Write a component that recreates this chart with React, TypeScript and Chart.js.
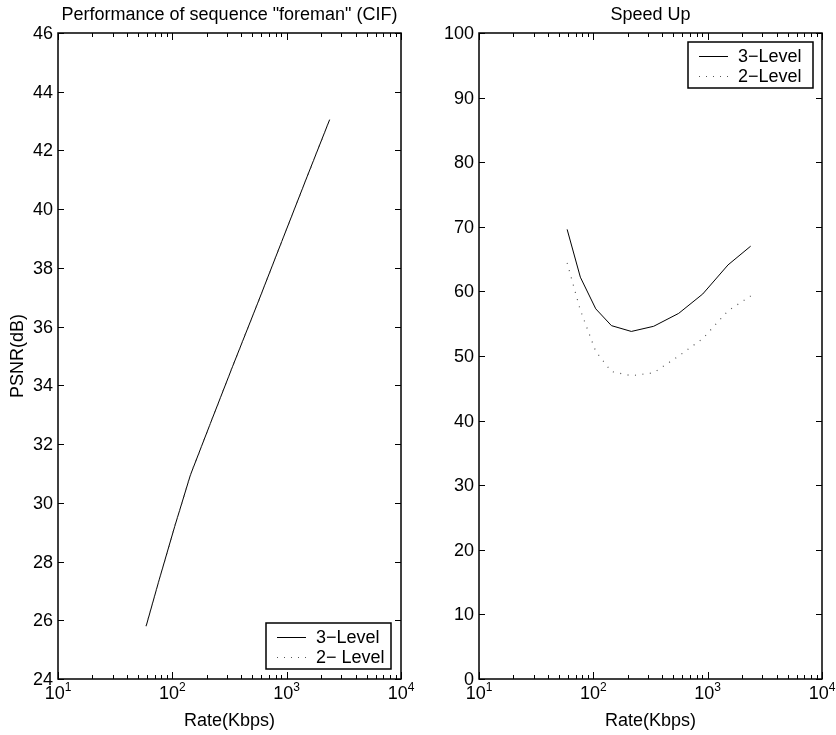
import React, { useEffect, useRef } from 'react';
import { Chart, registerables } from 'chart.js';

Chart.register(...registerables);

// ---- data ----
const rates = [59, 77, 105, 144, 215, 337, 558, 906, 1507, 2377];
const psnr3Level = [25.8, 27.4, 29.2, 30.95, 32.7, 34.65, 36.8, 38.9, 41.1, 43.05];
const psnr2Level = [25.8, 27.4, 29.2, 30.95, 32.7, 34.65, 36.8, 38.9, 41.1, 43.05];
const speed3Level = [69.6, 62.2, 57.3, 54.7, 53.8, 54.6, 56.6, 59.6, 64.1, 67.0];
const speed2Level = [64.4, 57.1, 50.7, 47.6, 46.95, 47.4, 50.0, 52.7, 57.0, 59.3];
const xDecades = [10, 100, 1000, 10000];
const xDecadeExponents = ['1', '2', '3', '4'];
const psnrTicks = [24, 26, 28, 30, 32, 34, 36, 38, 40, 42, 44, 46];
const speedTicks = [0, 10, 20, 30, 40, 50, 60, 70, 80, 90, 100];
const seriesLabelsLeft = ['3\u2212Level', '2\u2212 Level'];
const seriesLabelsRight = ['3\u2212Level', '2\u2212Level'];

const FONT = '"Liberation Sans", Arial, Helvetica, sans-serif';

type PanelSpec = {
  title: string;
  yLabel: string | null;
  s3: number[];
  s2: number[];
  yMin: number;
  yMax: number;
  yTicks: number[];
  labels: string[];
  legendCorner: 'br' | 'tr';
  padding: { left: number; right: number; top: number; bottom: number };
};

function makeDecorPlugin(spec: PanelSpec) {
  return {
    id: 'matlabDecor',
    afterDraw(chart: any) {
      const ctx: CanvasRenderingContext2D = chart.ctx;
      const a = chart.chartArea;
      const xs = chart.scales.x;
      const ys = chart.scales.y;
      ctx.save();
      ctx.strokeStyle = '#000';
      ctx.fillStyle = '#000';
      ctx.lineWidth = 1;

      // x ticks: major + minor, top and bottom, inward
      for (let d = 0; d < xDecades.length; d++) {
        const base = xDecades[d];
        for (let m = 1; m <= 9; m++) {
          const v = base * m;
          if (v > xDecades[xDecades.length - 1]) break;
          const px = Math.round(xs.getPixelForValue(v)) + 0.5;
          const len = m === 1 ? 7 : 4;
          ctx.beginPath();
          ctx.moveTo(px, a.bottom);
          ctx.lineTo(px, a.bottom - len);
          ctx.moveTo(px, a.top);
          ctx.lineTo(px, a.top + len);
          ctx.stroke();
          if (d === xDecades.length - 1) break;
        }
      }
      // y ticks left and right inward
      for (const t of spec.yTicks) {
        const py = Math.round(ys.getPixelForValue(t)) + 0.5;
        ctx.beginPath();
        ctx.moveTo(a.left, py);
        ctx.lineTo(a.left + 6, py);
        ctx.moveTo(a.right, py);
        ctx.lineTo(a.right - 6, py);
        ctx.stroke();
      }

      // border
      ctx.lineWidth = 1.5;
      ctx.strokeRect(a.left, a.top, a.right - a.left, a.bottom - a.top);

      // y tick labels
      ctx.font = '18px ' + FONT;
      ctx.textAlign = 'right';
      ctx.textBaseline = 'middle';
      for (const t of spec.yTicks) {
        const py = ys.getPixelForValue(t);
        ctx.fillText(String(t), a.left - 5, py + 1);
      }

      // x tick labels: 10^k
      ctx.textBaseline = 'alphabetic';
      for (let i = 0; i < xDecades.length; i++) {
        const px = xs.getPixelForValue(xDecades[i]);
        ctx.font = '18px ' + FONT;
        const w1 = ctx.measureText('10').width;
        ctx.font = '12px ' + FONT;
        const w2 = ctx.measureText(xDecadeExponents[i]).width;
        const start = px - (w1 + w2) / 2;
        ctx.textAlign = 'left';
        ctx.font = '18px ' + FONT;
        ctx.fillText('10', start, a.bottom + 20);
        ctx.font = '12px ' + FONT;
        ctx.fillText(xDecadeExponents[i], start + w1, a.bottom + 12);
      }

      // x axis title
      ctx.font = '18px ' + FONT;
      ctx.textAlign = 'center';
      ctx.fillText('Rate(Kbps)', (a.left + a.right) / 2, a.bottom + 47);

      // title
      ctx.fillText(spec.title, (a.left + a.right) / 2, 20);

      // y axis title
      if (spec.yLabel) {
        ctx.save();
        ctx.translate(18, (a.top + a.bottom) / 2);
        ctx.rotate(-Math.PI / 2);
        ctx.textBaseline = 'middle';
        ctx.fillText(spec.yLabel, 0, 0);
        ctx.restore();
      }

      // legend
      const bw = 125;
      const bh = 46;
      const margin = spec.legendCorner === 'br' ? 10 : 9;
      const bx = a.right - margin - bw;
      const by = spec.legendCorner === 'br' ? a.bottom - margin - bh : a.top + margin;
      ctx.fillStyle = '#fff';
      ctx.fillRect(bx, by, bw, bh);
      ctx.lineWidth = 1.5;
      ctx.strokeStyle = '#000';
      ctx.strokeRect(bx, by, bw, bh);
      const rows = [by + 13.7, by + 34];
      const dashes = [[], [1, 6]];
      const colors = ['#000', '#555'];
      for (let r = 0; r < 2; r++) {
        const ry = Math.round(rows[r]) + 0.5;
        ctx.beginPath();
        ctx.setLineDash(dashes[r]);
        ctx.lineWidth = 1;
        ctx.strokeStyle = colors[r];
        ctx.moveTo(bx + 11, ry);
        ctx.lineTo(bx + 40, ry);
        ctx.stroke();
        ctx.setLineDash([]);
        ctx.fillStyle = '#000';
        ctx.font = '18px ' + FONT;
        ctx.textAlign = 'left';
        ctx.textBaseline = 'middle';
        ctx.fillText(spec.labels[r], bx + 50, rows[r] + 1);
      }
      ctx.restore();
    },
  };
}

function Panel({ spec, left }: { spec: PanelSpec; left: number }) {
  const ref = useRef<HTMLCanvasElement | null>(null);
  useEffect(() => {
    if (!ref.current) return;
    const chart = new Chart(ref.current, {
      type: 'line',
      data: {
        datasets: [
          {
            label: spec.labels[1],
            data: rates.map((r, i) => ({ x: r, y: spec.s2[i] })),
            borderColor: '#555',
            borderWidth: 1.2,
            borderDash: [1, 6.5],
            pointRadius: 0,
            tension: 0,
            fill: false,
          },
          {
            label: spec.labels[0],
            data: rates.map((r, i) => ({ x: r, y: spec.s3[i] })),
            borderColor: '#000',
            borderWidth: 1,
            pointRadius: 0,
            tension: 0,
            fill: false,
          },
        ],
      },
      options: {
        responsive: false,
        maintainAspectRatio: false,
        animation: false,
        layout: { padding: spec.padding },
        plugins: {
          legend: { display: false },
          title: { display: false },
          tooltip: { enabled: false },
        },
        scales: {
          x: { type: 'logarithmic', min: 10, max: 10000, display: false },
          y: { type: 'linear', min: spec.yMin, max: spec.yMax, display: false },
        },
      },
      plugins: [makeDecorPlugin(spec)],
    } as any);
    return () => chart.destroy();
  }, [spec]);
  return (
    <canvas
      ref={ref}
      width={418}
      height={735}
      style={{ position: 'absolute', left, top: 0, width: 418, height: 735 }}
    />
  );
}

const leftSpec: PanelSpec = {
  title: 'Performance of sequence "foreman" (CIF)',
  yLabel: 'PSNR(dB)',
  s3: psnr3Level,
  s2: psnr2Level,
  yMin: 24,
  yMax: 46,
  yTicks: psnrTicks,
  labels: seriesLabelsLeft,
  legendCorner: 'br',
  padding: { left: 58, right: 17, top: 33, bottom: 56 },
};

const rightSpec: PanelSpec = {
  title: 'Speed Up',
  yLabel: null,
  s3: speed3Level,
  s2: speed2Level,
  yMin: 0,
  yMax: 100,
  yTicks: speedTicks,
  labels: seriesLabelsRight,
  legendCorner: 'tr',
  padding: { left: 61, right: 14, top: 33, bottom: 56 },
};

export default function App() {
  return (
    <div style={{ position: 'absolute', left: 0, top: 0, width: 836, height: 735, background: '#fff' }}>
      <Panel spec={leftSpec} left={0} />
      <Panel spec={rightSpec} left={418} />
    </div>
  );
}
